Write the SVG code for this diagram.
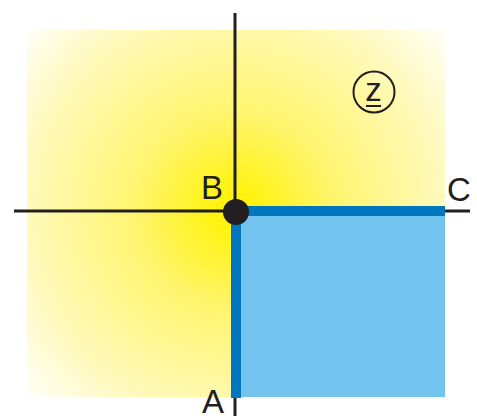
<svg xmlns="http://www.w3.org/2000/svg" width="477" height="416" viewBox="0 0 477 416">
<defs>
<radialGradient id="glow" gradientUnits="userSpaceOnUse" cx="235" cy="211" r="285">
<stop offset="0" stop-color="#FFF200"/>
<stop offset="0.1" stop-color="#FFF31A"/>
<stop offset="0.35" stop-color="#FFF570"/>
<stop offset="0.7" stop-color="#FFF9B5"/>
<stop offset="1" stop-color="#FFFFFF"/>
</radialGradient>
<style>
.axis{stroke:#231F20;stroke-width:3;fill:none}
.edge{stroke:#0076BE;stroke-width:10;fill:none}
.lbl{font-family:"Liberation Sans",Arial,sans-serif;font-size:33px;fill:#231F20}
</style>
</defs>
<rect id="field" x="27" y="30" width="418" height="367" fill="url(#glow)"/>
<g id="region">
<rect x="236" y="211" width="209" height="186" fill="#73C4EF"/>
</g>
<g id="connectors">
<line class="axis" x1="14" y1="211" x2="470" y2="211"/>
<line class="axis" x1="235" y1="13" x2="235" y2="416"/>
<polyline class="edge" points="445,211 236,211 236,398"/>
</g>
<g id="nodeB">
<circle cx="236" cy="212" r="13" fill="#231F20"/>
<text class="lbl" x="201" y="199">B</text>
</g>
<g id="nodeC">
<text class="lbl" x="447" y="201">C</text>
</g>
<g id="nodeA">
<text class="lbl" x="202" y="413">A</text>
</g>
<g id="nodeZ">
<circle cx="374" cy="92" r="20.5" fill="none" stroke="#231F20" stroke-width="2"/>
<text class="lbl" x="373.5" y="101" text-anchor="middle">z</text>
<line x1="366" y1="106" x2="381" y2="106" stroke="#231F20" stroke-width="2"/>
</g>
</svg>
